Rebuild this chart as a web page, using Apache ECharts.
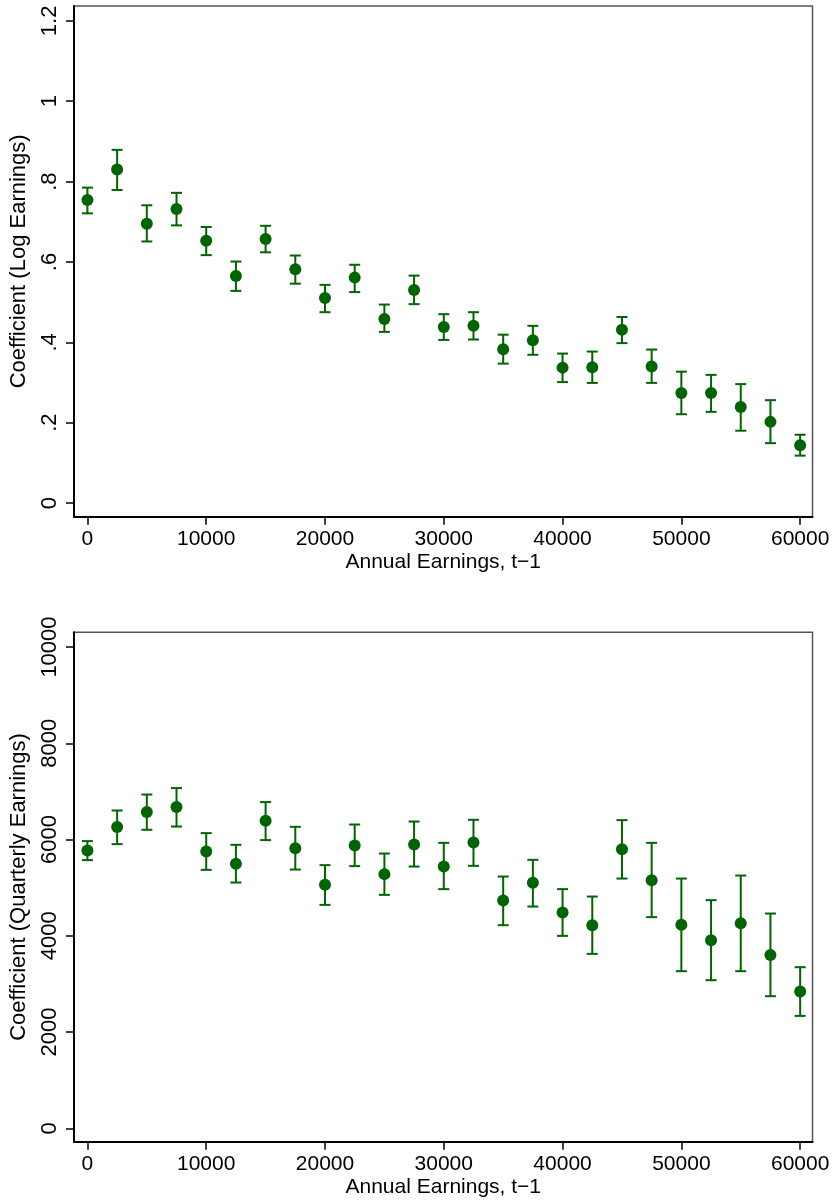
<!DOCTYPE html>
<html>
<head>
<meta charset="utf-8">
<script src="https://cdn.jsdelivr.net/npm/echarts@6/dist/echarts.min.js"></script>
<style>html,body{margin:0;padding:0;background:#fff}#c{width:834px;height:1200px}</style>
</head>
<body>
<div id="c"></div>
<script>
// Lagged annual earnings bins (x)
const earnings = [0, 2500, 5000, 7500, 10000, 12500, 15000, 17500, 20000, 22500, 25000, 27500, 30000,
  32500, 35000, 37500, 40000, 42500, 45000, 47500, 50000, 52500, 55000, 57500, 60000];

// Top panel: coefficient on log earnings, with CI
const logCoef = [0.754, 0.830, 0.695, 0.732, 0.653, 0.565, 0.657, 0.582, 0.510, 0.561, 0.458, 0.530, 0.438,
  0.441, 0.383, 0.405, 0.337, 0.338, 0.431, 0.340, 0.274, 0.274, 0.239, 0.202, 0.144];
const logLo = [0.721, 0.779, 0.651, 0.691, 0.617, 0.528, 0.624, 0.546, 0.475, 0.525, 0.426, 0.495, 0.406,
  0.407, 0.347, 0.369, 0.301, 0.299, 0.398, 0.299, 0.221, 0.227, 0.180, 0.149, 0.118];
const logHi = [0.785, 0.879, 0.741, 0.772, 0.687, 0.601, 0.690, 0.616, 0.543, 0.593, 0.494, 0.566, 0.470,
  0.475, 0.419, 0.441, 0.372, 0.377, 0.463, 0.382, 0.327, 0.319, 0.296, 0.256, 0.170];

// Bottom panel: coefficient on quarterly earnings, with CI
const qCoef = [5771, 6258, 6570, 6674, 5751, 5495, 6389, 5821, 5058, 5875, 5281, 5896, 5439,
  5938, 4732, 5100, 4482, 4220, 5800, 5156, 4227, 3909, 4262, 3599, 2840];
const qLo = [5572, 5904, 6202, 6270, 5370, 5106, 5988, 5376, 4642, 5447, 4850, 5439, 4969,
  5453, 4220, 4607, 3998, 3624, 5189, 4387, 3264, 3077, 3264, 2744, 2335];
const qHi = [5967, 6603, 6935, 7069, 6133, 5890, 6778, 6264, 5468, 6312, 5709, 6374, 5931,
  6410, 5231, 5578, 4969, 4815, 6403, 5931, 5189, 4740, 5252, 4462, 3347];

// Tick labels
const xTicks = [0, 10000, 20000, 30000, 40000, 50000, 60000];
const logTicks = [0, 0.2, 0.4, 0.6, 0.8, 1, 1.2];
const qTicks = [0, 2000, 4000, 6000, 8000, 10000];

const xTitle = 'Annual Earnings, t\u22121';
const yTitleTop = 'Coefficient (Log Earnings)';
const yTitleBottom = 'Coefficient (Quarterly Earnings)';

const GREEN = '#006400';
const REG = "'Liberation Sans', Arial, sans-serif";

function stataFmt(v) {
  if (v === 0) return '0';
  let s = String(Math.round(v * 1000) / 1000);
  if (s.startsWith('0.')) s = s.slice(1);
  return s;
}

function errRender(params, api) {
  const x = api.value(0), lo = api.value(1), hi = api.value(2);
  const a = api.coord([x, lo]);
  const b = api.coord([x, hi]);
  const w = 5.5;
  const st = { stroke: GREEN, lineWidth: 2 };
  return {
    type: 'group',
    children: [
      { type: 'line', shape: { x1: a[0], y1: a[1], x2: b[0], y2: b[1] }, style: st },
      { type: 'line', shape: { x1: a[0] - w, y1: a[1], x2: a[0] + w, y2: a[1] }, style: st },
      { type: 'line', shape: { x1: b[0] - w, y1: b[1], x2: b[0] + w, y2: b[1] }, style: st }
    ]
  };
}

function xAxisCfg(gi) {
  return {
    type: 'value', gridIndex: gi, min: -1130, max: 61040,
    name: xTitle, nameLocation: 'middle', nameGap: 35,
    nameTextStyle: { fontFamily: REG, fontSize: 21, color: '#000' },
    axisLine: { show: true, onZero: false, lineStyle: { color: '#000', width: 2 } },
    axisTick: { show: true, length: 8, customValues: xTicks, lineStyle: { color: '#000', width: 1.5 } },
    axisLabel: { customValues: xTicks, margin: 12, fontFamily: REG, fontSize: 21, color: '#000',
      formatter: v => String(v) },
    splitLine: { show: false }
  };
}

function yAxisCfg(gi, min, max, ticks, title) {
  return {
    type: 'value', gridIndex: gi, min: min, max: max,
    name: title, nameLocation: 'middle', nameGap: 44, nameRotate: 90,
    nameTextStyle: { fontFamily: REG, fontSize: 22, color: '#000' },
    axisLine: { show: true, onZero: false, lineStyle: { color: '#000', width: 2 } },
    axisTick: { show: true, length: 8, customValues: ticks, lineStyle: { color: '#000', width: 1.5 } },
    axisLabel: { customValues: ticks, rotate: 90, margin: 13, fontFamily: REG, fontSize: 22, color: '#000',
      formatter: stataFmt },
    splitLine: { show: false }
  };
}

function zip3(a, b, c) { return a.map((v, i) => [v, b[i], c[i]]); }
function zip2(a, b) { return a.map((v, i) => [v, b[i]]); }

const chart = echarts.init(document.getElementById('c'), null, { renderer: 'canvas' });
chart.setOption({
  backgroundColor: '#fff',
  animation: false,
  grid: [
    { left: 73, right: 21.5, top: 6, height: 510.7, show: true, borderColor: '#555', borderWidth: 1.5, backgroundColor: 'transparent' },
    { left: 73, right: 21.5, top: 632.3, height: 509.4, show: true, borderColor: '#555', borderWidth: 1.5, backgroundColor: 'transparent' }
  ],
  xAxis: [xAxisCfg(0), xAxisCfg(1)],
  yAxis: [
    yAxisCfg(0, -0.034, 1.237, logTicks, yTitleTop),
    yAxisCfg(1, -279, 10306, qTicks, yTitleBottom)
  ],
  series: [
    { type: 'custom', xAxisIndex: 0, yAxisIndex: 0, renderItem: errRender,
      encode: { x: 0, y: [1, 2] }, data: zip3(earnings, logLo, logHi), z: 2 },
    { type: 'scatter', xAxisIndex: 0, yAxisIndex: 0, symbol: 'circle', symbolSize: 12,
      itemStyle: { color: GREEN, opacity: 1 }, data: zip2(earnings, logCoef), z: 3 },
    { type: 'custom', xAxisIndex: 1, yAxisIndex: 1, renderItem: errRender,
      encode: { x: 0, y: [1, 2] }, data: zip3(earnings, qLo, qHi), z: 2 },
    { type: 'scatter', xAxisIndex: 1, yAxisIndex: 1, symbol: 'circle', symbolSize: 12,
      itemStyle: { color: GREEN, opacity: 1 }, data: zip2(earnings, qCoef), z: 3 }
  ]
});
</script>
</body>
</html>
